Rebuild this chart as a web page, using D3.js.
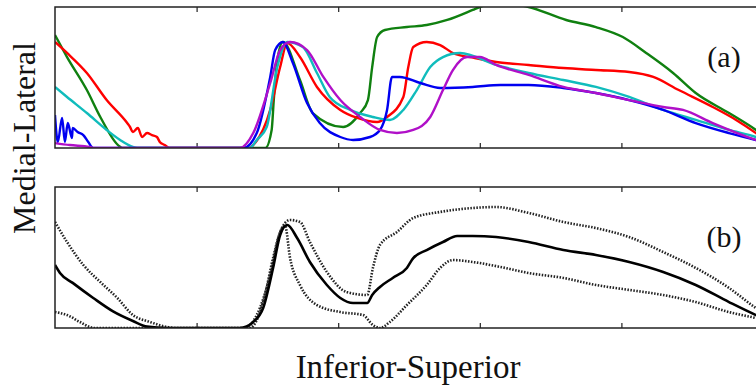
<!doctype html>
<html>
<head>
<meta charset="utf-8">
<script src="https://d3js.org/d3.v7.min.js"></script>
<style>
  body { margin: 0; background: #fff; }
  text { font-family: "Liberation Serif", "Times New Roman", serif; fill: #111; }
</style>
</head>
<body>
<div id="chart"></div>
<script>
// normalised position along inferior-superior axis (x) and medial-lateral value (y)
var xTicks = [0.2, 0.4, 0.6, 0.8];

// panel (a): five individual curves
var greenCurve = [[0,.801],[.017,.645],[.045,.411],[.064,.22],[.089,.021],[.095,0],[.297,0],[.306,.128],[.309,.34],[.314,.624],[.322,.752],[.346,.482],[.364,.248],[.407,.149],[.431,.248],[.442,.34],[.448,.574],[.455,.787],[.466,.837],[.497,.858],[.525,.872],[.554,.908],[.59,.979],[.6,1.0],[.629,1.03],[.669,1.0],[.722,.908],[.764,.858],[.802,.787],[.835,.674],[.873,.532],[.905,.39],[.952,.248],[.99,.128],[1,.092]];
var redCurve = [[0,.752],[.017,.674],[.045,.532],[.073,.34],[.102,.177],[.106,.149],[.11,.113],[.117,.142],[.123,.078],[.13,.106],[.137,.092],[.144,.078],[.148,.043],[.155,.021],[.162,0],[.275,0],[.28,.021],[.304,.27],[.318,.574],[.328,.745],[.346,.645],[.37,.433],[.403,.27],[.427,.213],[.455,.184],[.469,.22],[.492,.362],[.499,.574],[.506,.716],[.525,.752],[.544,.73],[.562,.674],[.593,.638],[.623,.61],[.669,.589],[.718,.567],[.764,.553],[.811,.539],[.845,.504],[.881,.411],[.929,.291],[.962,.199],[.99,.106],[1,.07]];
var cyanCurve = [[0,.433],[.017,.362],[.045,.248],[.073,.128],[.092,.057],[.11,.007],[.116,0],[.275,0],[.285,.057],[.299,.149],[.314,.574],[.328,.752],[.35,.716],[.37,.532],[.388,.362],[.417,.27],[.449,.22],[.473,.199],[.492,.27],[.511,.411],[.53,.574],[.548,.645],[.572,.674],[.623,.589],[.669,.532],[.718,.482],[.764,.433],[.811,.362],[.859,.27],[.905,.199],[.952,.128],[.99,.078],[1,.06]];
var blueCurve = [[0,.234],[.004,.043],[.01,.213],[.014,.043],[.018,.177],[.024,.071],[.025,.142],[.032,.113],[.04,.092],[.047,.043],[.054,0],[.266,0],[.285,.106],[.304,.504],[.311,.695],[.322,.752],[.336,.603],[.356,.319],[.374,.177],[.403,.078],[.421,.057],[.445,.078],[.459,.128],[.469,.27],[.476,.504],[.487,.504],[.516,.461],[.544,.426],[.59,.433],[.629,.447],[.669,.447],[.718,.426],[.764,.39],[.811,.34],[.859,.27],[.905,.177],[.952,.106],[.99,.057],[1,.045]];
var magentaCurve = [[0,.035],[.021,.021],[.049,.007],[.056,0],[.261,0],[.28,.106],[.304,.461],[.318,.695],[.332,.752],[.356,.695],[.379,.504],[.403,.34],[.431,.22],[.459,.128],[.483,.106],[.506,.128],[.53,.22],[.548,.411],[.562,.553],[.582,.645],[.6,.645],[.623,.589],[.669,.518],[.718,.433],[.764,.39],[.811,.34],[.859,.291],[.887,.27],[.929,.177],[.99,.057],[1,.04]];

// panel (b): mean and bounds
var meanCurve = [[0,.447],[.007,.39],[.025,.32],[.054,.213],[.082,.118],[.11,.05],[.13,.01],[.158,0],[.261,0],[.28,.043],[.294,.142],[.308,.426],[.318,.66],[.328,.73],[.342,.638],[.36,.468],[.384,.305],[.403,.213],[.421,.177],[.441,.177],[.448,.234],[.459,.291],[.477,.355],[.497,.426],[.506,.496],[.525,.553],[.548,.61],[.568,.652],[.59,.652],[.623,.645],[.669,.61],[.718,.553],[.764,.518],[.811,.468],[.859,.397],[.905,.305],[.952,.184],[.99,.092],[1,.07]];
var upperCurve = [[0,.752],[.017,.61],[.04,.447],[.064,.326],[.088,.213],[.11,.092],[.134,.043],[.158,.007],[.169,0],[.268,0],[.285,.092],[.304,.376],[.318,.681],[.332,.766],[.346,.752],[.36,.61],[.384,.397],[.412,.255],[.441,.234],[.449,.426],[.459,.589],[.483,.681],[.506,.78],[.544,.823],[.59,.851],[.623,.858],[.669,.816],[.718,.752],[.764,.709],[.811,.645],[.859,.539],[.905,.426],[.952,.284],[.99,.142],[1,.11]];
var lowerCurve = [[0,.113],[.017,.092],[.035,.043],[.049,.007],[.056,0],[.275,0],[.294,.184],[.308,.496],[.318,.681],[.325,.723],[.332,.496],[.346,.305],[.37,.163],[.403,.113],[.435,.092],[.449,.021],[.459,0],[.473,.043],[.497,.163],[.525,.305],[.544,.426],[.562,.482],[.59,.468],[.629,.433],[.669,.39],[.718,.355],[.764,.305],[.811,.27],[.859,.234],[.905,.184],[.952,.113],[.99,.071],[1,.06]];

var width = 756, height = 387;
var left = 55, right = 763;

var svg = d3.select("#chart").append("svg")
    .attr("width", width)
    .attr("height", height);

var x = d3.scaleLinear().domain([0, 1]).range([left, right]);

function panel(top, bottom, id) {
  var y = d3.scaleLinear().domain([0, 1]).range([bottom, top]);
  var g = svg.append("g");

  svg.append("clipPath").attr("id", id)
    .append("rect")
    .attr("x", left).attr("y", top)
    .attr("width", right - left).attr("height", bottom - top);

  // ticks on top and bottom edges, pointing inward
  g.append("g")
    .attr("transform", "translate(0," + bottom + ")")
    .call(d3.axisTop(x).tickValues(xTicks).tickSize(5).tickFormat(""))
    .call(function(a) { a.select(".domain").remove(); });
  g.append("g")
    .attr("transform", "translate(0," + top + ")")
    .call(d3.axisBottom(x).tickValues(xTicks).tickSize(5).tickFormat(""))
    .call(function(a) { a.select(".domain").remove(); });
  g.selectAll(".tick line").attr("stroke", "#222").attr("stroke-width", 1.2);

  var plot = g.append("g").attr("clip-path", "url(#" + id + ")");

  g.append("rect")
    .attr("x", left).attr("y", top)
    .attr("width", right - left).attr("height", bottom - top)
    .attr("fill", "none")
    .attr("stroke", "#222")
    .attr("stroke-width", 1.5);

  var line = d3.line()
    .x(function(d) { return x(d[0]); })
    .y(function(d) { return y(d[1]); })
    .curve(d3.curveMonotoneX);

  return { plot: plot, line: line };
}

var a = panel(7, 148, "clipA");
var seriesA = [
  { data: greenCurve, color: "#108010" },
  { data: redCurve, color: "#ff0000" },
  { data: cyanCurve, color: "#10bcbc" },
  { data: blueCurve, color: "#0000f0" },
  { data: magentaCurve, color: "#b010c8" }
];
a.plot.selectAll("path")
  .data(seriesA)
  .enter()
  .append("path")
  .attr("d", function(d) { return a.line(d.data); })
  .attr("fill", "none")
  .attr("stroke", function(d) { return d.color; })
  .attr("stroke-width", 2.4)
  .attr("stroke-linejoin", "round");

var b = panel(187, 328, "clipB");
[upperCurve, lowerCurve].forEach(function(c) {
  b.plot.append("path")
    .attr("d", b.line(c))
    .attr("fill", "none")
    .attr("stroke", "#222")
    .attr("stroke-width", 2.6)
    .attr("stroke-dasharray", "1.5,1.5");
});
b.plot.append("path")
  .attr("d", b.line(meanCurve))
  .attr("fill", "none")
  .attr("stroke", "#000")
  .attr("stroke-width", 2.6);

// panel labels
svg.append("text").attr("x", 724).attr("y", 67)
  .attr("text-anchor", "middle").style("font-size", "30px").text("(a)");
svg.append("text").attr("x", 724).attr("y", 247)
  .attr("text-anchor", "middle").style("font-size", "30px").text("(b)");

// axis titles
svg.append("text")
  .attr("transform", "translate(35,138) rotate(-90)")
  .attr("text-anchor", "middle")
  .style("font-size", "32px")
  .text("Medial-Lateral");
svg.append("text")
  .attr("x", 408).attr("y", 378)
  .attr("text-anchor", "middle")
  .style("font-size", "33px")
  .text("Inferior-Superior");
</script>
</body>
</html>
